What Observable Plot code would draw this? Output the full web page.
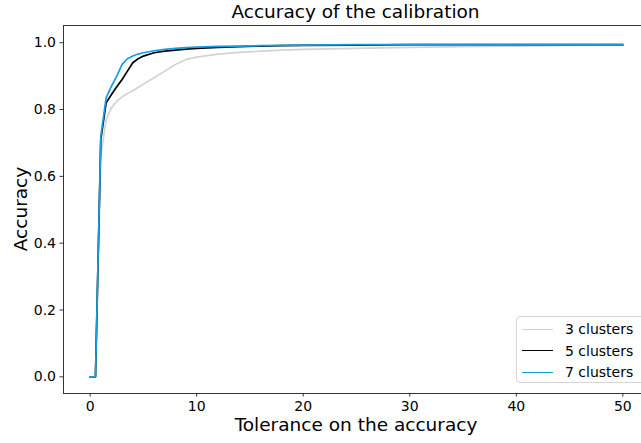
<!DOCTYPE html>
<html>
<head>
<meta charset="utf-8">
<script src="https://cdn.jsdelivr.net/npm/d3@7"></script>
<script src="https://cdn.jsdelivr.net/npm/@observablehq/plot@0.6"></script>
<style>
  html, body { margin: 0; padding: 0; background: #fff; overflow: hidden; }
  #wrap { position: relative; width: 641px; height: 443px; font-family: "DejaVu Sans", sans-serif; color: #000; }
  #title { height: 24px; line-height: 24px; font-size: 18.5px; text-align: center; padding-left: 70px; box-sizing: border-box; white-space: nowrap; }
  #chart svg { display: block; overflow: hidden; }
  .lab { position: absolute; font-size: 18.5px; white-space: nowrap; }
  #xlab { left: 63px; width: 586px; top: 414px; text-align: center; }
  #ylab { left: 20px; top: 209px; transform: translate(-50%, -50%) rotate(-90deg); }
  #legend { position: absolute; left: 516px; top: 316px; width: 140px; height: 67px; border: 1px solid #d5d5d5; border-radius: 4px; box-sizing: border-box; background: rgba(255,255,255,0.8); font-size: 14px; }
  .item { position: absolute; left: 5px; height: 18px; display: flex; align-items: center; }
  .swatch { width: 31px; height: 0; border-top: 1.7px solid; margin-right: 12px; }
</style>
</head>
<body>
<div id="wrap">
  <div id="title">Accuracy of the calibration</div>
  <div id="chart"></div>
  <div id="xlab" class="lab">Tolerance on the accuracy</div>
  <div id="ylab" class="lab">Accuracy</div>
  <div id="legend"></div>
</div>
<script>
const tolerance = [0, 0.5, 1, 1.5, 2, 2.5, 3, 3.5, 4, 4.5, 5, 6, 7, 8, 9, 10, 12, 14, 16, 18, 20, 25, 30, 35, 40, 45, 50];
const acc3 = [0, 0, 0.66, 0.77, 0.805, 0.825, 0.838, 0.848, 0.856, 0.866, 0.876, 0.895, 0.915, 0.935, 0.950, 0.957, 0.966, 0.971, 0.975, 0.978, 0.980, 0.983, 0.986, 0.988, 0.990, 0.992, 0.993];
const acc5 = [0, 0, 0.71, 0.82, 0.845, 0.868, 0.89, 0.915, 0.94, 0.952, 0.960, 0.970, 0.975, 0.978, 0.981, 0.983, 0.986, 0.988, 0.990, 0.991, 0.992, 0.993, 0.994, 0.994, 0.994, 0.994, 0.994];
const acc7 = [0, 0, 0.72, 0.835, 0.87, 0.90, 0.935, 0.952, 0.960, 0.966, 0.970, 0.976, 0.980, 0.983, 0.985, 0.987, 0.989, 0.990, 0.991, 0.992, 0.993, 0.994, 0.994, 0.994, 0.994, 0.994, 0.994];
const seriesNames = ["3 clusters", "5 clusters", "7 clusters"];
const seriesColors = ["#d3d3d3", "#000000", "#169ee0"];
const xTicks = [0, 10, 20, 30, 40, 50];
const yTicks = [0.0, 0.2, 0.4, 0.6, 0.8, 1.0];

const allSeries = [acc3, acc5, acc7];
const data = [];
allSeries.forEach((vals, i) => {
  vals.forEach((v, j) => data.push({series: seriesNames[i], x: tolerance[j], y: v}));
});

const chart = Plot.plot({
  width: 641,
  height: 419,
  marginLeft: 63,
  marginRight: -8,
  marginTop: 1,
  marginBottom: 50,
  style: {fontFamily: "DejaVu Sans", fontSize: "14px", color: "#000", background: "#fff"},
  x: {domain: [-2.5, 52.5], ticks: xTicks, tickFormat: d3.format("d"), label: null, tickSize: 3.5, tickPadding: 4},
  y: {domain: [-0.0498, 1.0515], ticks: yTicks, tickFormat: d3.format(".1f"), label: null, tickSize: 3.5, tickPadding: 4},
  color: {domain: seriesNames, range: seriesColors},
  marks: [
    Plot.frame({stroke: "#333", strokeWidth: 1}),
    Plot.line(data, {x: "x", y: "y", z: "series", stroke: "series", strokeWidth: 1.7}),
    Plot.axisX({ticks: xTicks, tickFormat: d3.format("d"), label: null, tickSize: 3.5, tickPadding: 4, fontSize: 14, stroke: "#333"}),
    Plot.axisY({ticks: yTicks, tickFormat: d3.format(".1f"), label: null, tickSize: 3.5, tickPadding: 4, fontSize: 14, stroke: "#333"})
  ]
});
document.getElementById("chart").appendChild(chart);

const legend = document.getElementById("legend");
seriesNames.forEach((name, i) => {
  const item = document.createElement("div");
  item.className = "item";
  item.style.top = (3 + i * 21.5) + "px";
  const sw = document.createElement("span");
  sw.className = "swatch";
  sw.style.borderColor = seriesColors[i];
  const t = document.createElement("span");
  t.textContent = name;
  item.appendChild(sw);
  item.appendChild(t);
  legend.appendChild(item);
});
</script>
</body>
</html>
